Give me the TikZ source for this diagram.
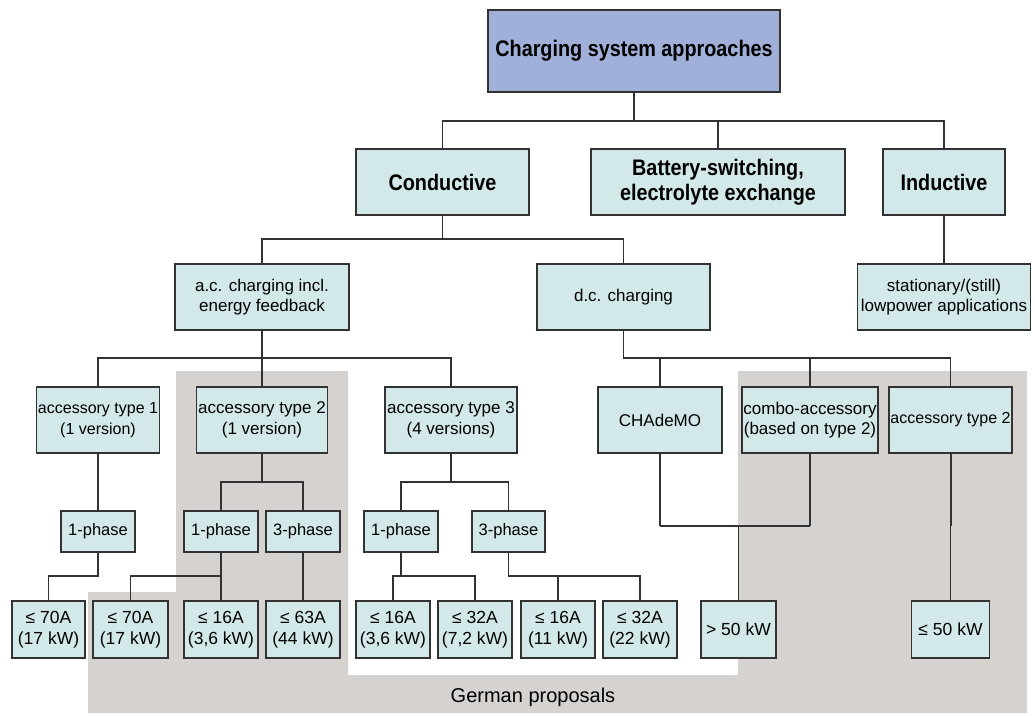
\documentclass[tikz,border=0pt]{standalone}
\usepackage{fontspec}
\setmainfont{Liberation Sans}
\newfontfamily\narrowfont[FakeStretch=0.88]{Liberation Sans}
\definecolor{boxfill}{RGB}{211,232,232}
\definecolor{topfill}{RGB}{160,176,216}
\definecolor{boxline}{RGB}{50,50,50}
\definecolor{propfill}{RGB}{214,210,208}
\begin{document}
\begin{tikzpicture}[x=1pt,y=-1pt,
  sz/.style 2 args={minimum width=#1pt, minimum height=#2pt},
  box/.style={draw=boxline, fill=boxfill, line width=1.1pt, inner sep=0pt, align=center,
    font=\fontsize{17}{20.5}\selectfont},
  smallbox/.style={box, font=\fontsize{16}{20.5}\selectfont},
  phasebox/.style={box, font=\fontsize{16.5}{20}\selectfont},
  ratebox/.style={box, font=\fontsize{17.5}{21.5}\selectfont},
  l2box/.style={box, font=\fontsize{17}{20}\selectfont},
  l1box/.style={box, font=\narrowfont\bfseries\fontsize{22.5}{25}\selectfont},
  topbox/.style={l1box, fill=topfill},
  link/.style={draw=boxline, line width=1.2pt},
  heavylink/.style={draw=boxline, line width=2pt}
]
% page frame
\fill[white] (0,0) rectangle (1035,715);
\useasboundingbox (0,0) rectangle (1035,715);

% shaded area of the German proposals
\fill[propfill] (176,371) -- (348,371) -- (348,675) -- (738,675) -- (738,371)
  -- (1027,371) -- (1027,713) -- (88,713) -- (88,592) -- (176,592) -- cycle;
\node[font=\fontsize{20}{22}\selectfont] (gp) at (533,697) {German proposals};

% level 0 and 1
\node[topbox, sz={292}{82}] (top) at (634,51) {Charging system approaches};
\node[l1box, sz={173}{66}] (cond) at (442.5,182) {Conductive};
\node[l1box, sz={254}{66}] (batt) at (718,182) {Battery-switching,\\electrolyte exchange};
\node[l1box, sz={122}{66}] (ind) at (944,182) {Inductive};

% level 2
\node[l2box, sz={174}{66}] (ac) at (262,297) {a.c. charging incl.\\energy feedback};
\node[l2box, sz={173}{66}] (dc) at (623.5,297) {d.c. charging};
\node[l2box, sz={173}{66}] (stat) at (944,297) {stationary/(still)\\lowpower applications};

% level 3: accessories
\node[smallbox, sz={123}{66}] (acc1) at (98,420) {accessory type 1\\(1 version)};
\node[box, sz={131}{66}] (acc2) at (262,420) {accessory type 2\\(1 version)};
\node[box, sz={132}{66}] (acc3) at (451,420) {accessory type 3\\(4 versions)};
\node[box, sz={124}{66}] (chad) at (660,420) {CHAdeMO};
\node[box, sz={136}{66}] (combo) at (810,420) {combo-accessory\\(based on type 2)};
\node[smallbox, sz={123}{66}] (acc2r) at (950.5,420) {accessory type 2};

% level 4: phases
\node[phasebox, sz={74}{41}] (ph1a) at (98,531.5) {1-phase};
\node[phasebox, sz={74}{41}] (ph1b) at (221,531.5) {1-phase};
\node[phasebox, sz={74}{41}] (ph3b) at (303,531.5) {3-phase};
\node[phasebox, sz={74}{41}] (ph1c) at (401,531.5) {1-phase};
\node[phasebox, sz={73}{41}] (ph3c) at (508.5,531.5) {3-phase};

% level 5: ratings
\node[ratebox, sz={73}{57}] (b1) at (48.5,629.5) {≤ 70A\\(17 kW)};
\node[ratebox, sz={75}{57}] (b2) at (130.5,629.5) {≤ 70A\\(17 kW)};
\node[ratebox, sz={74}{57}] (b3) at (221,629.5) {≤ 16A\\(3,6 kW)};
\node[ratebox, sz={74}{57}] (b4) at (303,629.5) {≤ 63A\\(44 kW)};
\node[ratebox, sz={74}{57}] (b5) at (393,629.5) {≤ 16A\\(3,6 kW)};
\node[ratebox, sz={74}{57}] (b6) at (475,629.5) {≤ 32A\\(7,2 kW)};
\node[ratebox, sz={74}{57}] (b7) at (558,629.5) {≤ 16A\\(11 kW)};
\node[ratebox, sz={74}{57}] (b8) at (640,629.5) {≤ 32A\\(22 kW)};
\node[ratebox, sz={75}{57}] (b9) at (738.5,629.5) {> 50 kW};
\node[ratebox, sz={78}{57}] (b10) at (950.5,629.5) {≤ 50 kW};

% junction levels
\coordinate (j1) at (634,121);
\coordinate (j2) at (442.5,239);
\coordinate (j3) at (262,358);
\coordinate (j4) at (dc.south |- j3);
\coordinate (ya) at (0,482);
\coordinate (yb) at (0,576);
\coordinate (yc) at (0,526);

% connectors
\draw[link] (top.south) -- (j1);
\draw[link] (cond.north) |- (j1);
\draw[link] (ind.north) |- (j1);
\draw[link] (batt.north) -- (batt.north |- j1);

\draw[link] (cond.south) -- (j2);
\draw[link] (ac.north) |- (j2);
\draw[link] (dc.north) |- (j2);
\draw[link] (ind.south) -- (stat.north);

\draw[link] (ac.south) -- (acc2.north);
\draw[link] (acc1.north) |- (j3);
\draw[link] (acc3.north) |- (j3);

\draw[link] (dc.south) -- (j4) -| (chad.north);
\draw[link] (j4) -| (combo.north);
\draw[link] (j4) -| (acc2r.north);

\draw[link] (acc1.south) -- (ph1a.north);
\draw[link] (ph1a.south) -- (ph1a.south |- yb) -| (b1.north);

\draw[link] (acc2.south) -- (acc2.south |- ya);
\draw[link] (ph1b.north) |- (acc2.south |- ya) -| (ph3b.north);
\draw[link] (ph1b.south) -- (b3.north);
\draw[link] (ph1b.south |- yb) -| (b2.north);
\draw[link] (ph3b.south) -- (b4.north);

\draw[link] (acc3.south) -- (acc3.south |- ya);
\draw[link] (ph1c.north) |- (acc3.south |- ya) -| (ph3c.north);
\draw[link] (ph1c.south) -- (ph1c.south |- yb);
\draw[link] (b5.north) |- (b6.north |- yb) -- (b6.north);
\draw[link] (ph3c.south) |- (b8.north |- yb) -- (b8.north);
\draw[link] (b7.north) -- (b7.north |- yb);

\draw[heavylink] (chad.south) -- (chad.south |- yc);
\draw[heavylink] (combo.south) -- (combo.south |- yc);
\draw[link] (chad.south |- yc) -- (combo.south |- yc);
\draw[link] (b9.north) -- (b9.north |- yc);

\draw[heavylink] (acc2r.south) -- (acc2r.south |- yc);
\draw[link] (acc2r.south) -- (b10.north);
\end{tikzpicture}
\end{document}
